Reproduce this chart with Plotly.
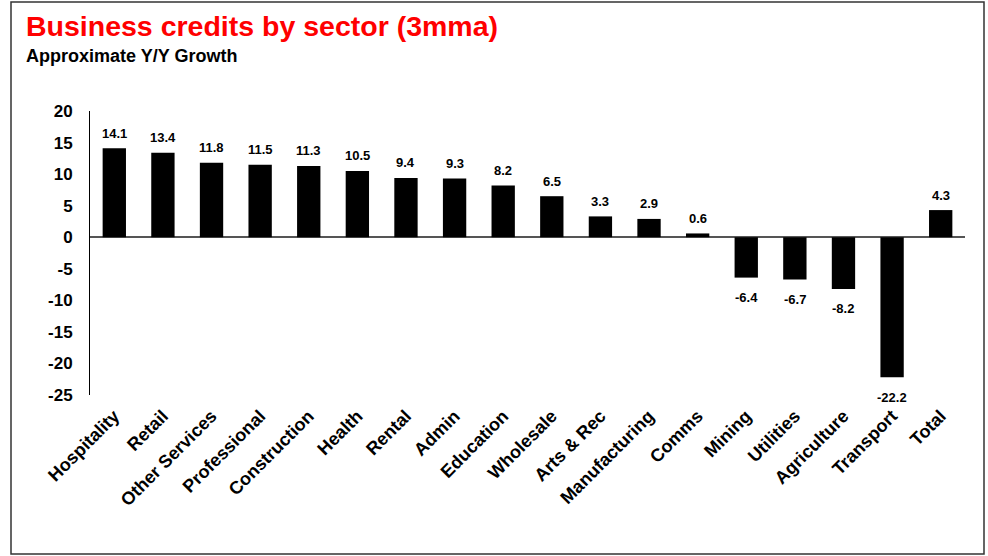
import plotly.graph_objects as go

# Approximate year-on-year growth in business credit, 3-month moving average
sectors = [
    "Hospitality", "Retail", "Other Services", "Professional", "Construction",
    "Health", "Rental", "Admin", "Education", "Wholesale", "Arts & Rec",
    "Manufacturing", "Comms", "Mining", "Utilities", "Agriculture",
    "Transport", "Total",
]
growth = [14.1, 13.4, 11.8, 11.5, 11.3, 10.5, 9.4, 9.3, 8.2, 6.5, 3.3,
          2.9, 0.6, -6.4, -6.7, -8.2, -22.2, 4.3]
y_ticks = [20, 15, 10, 5, 0, -5, -10, -15, -20, -25]

FONT = "Liberation Sans, Arial, sans-serif"

# layout geometry (pixels)
W, H = 988, 556
L, R, T, B = 90, 23, 111, 161
pw, ph = W - L - R, H - T - B


def px_x(p):
    return (p - L) / pw


def px_y(p):
    return (H - B - p) / ph


fig = go.Figure()
fig.add_trace(go.Bar(
    x=sectors, y=growth, marker=dict(color="#000000", line=dict(width=0)),
    width=0.48, hoverinfo="x+y",
))

# value labels above positive bars and below negative bars
for s, v in zip(sectors, growth):
    fig.add_annotation(
        x=s, y=v, xref="x", yref="y", text=f"{v:.1f}", showarrow=False,
        yanchor="middle", yshift=15 if v >= 0 else -20,
        font=dict(family=FONT, size=13, color="#000000", weight="bold"),
    )

# subtitle
fig.add_annotation(
    x=px_x(24), y=px_y(56), xref="paper", yref="paper",
    text="Approximate Y/Y Growth", showarrow=False,
    xanchor="left", yanchor="middle",
    font=dict(family=FONT, size=18, color="#000000", weight="bold"),
)

# outer frame
fig.add_shape(
    type="rect", xref="paper", yref="paper",
    x0=px_x(11), x1=px_x(984), y0=px_y(554), y1=px_y(2),
    line=dict(color="#333333", width=1.5), fillcolor="rgba(0,0,0,0)", layer="below",
)

fig.update_layout(
    width=W, height=H,
    margin=dict(l=L, r=R, t=T, b=B, pad=0),
    paper_bgcolor="#ffffff", plot_bgcolor="#ffffff",
    showlegend=False, bargap=0.52,
    title=dict(
        text="Business credits by sector (3mma)",
        x=26 / W, xanchor="left", xref="container",
        y=1 - 26 / H, yanchor="middle", yref="container",
        font=dict(family=FONT, size=28.5, color="#ff0000", weight="bold"),
    ),
    xaxis=dict(
        type="category", tickangle=-45, showgrid=False, showline=False,
        ticks="", ticklabelstandoff=6,
        tickfont=dict(family=FONT, size=18, color="#000000", weight="bold"),
        fixedrange=True,
    ),
    yaxis=dict(
        range=[-25, 20], tickvals=y_ticks, ticktext=[str(t) for t in y_ticks],
        showgrid=False, showline=True, linecolor="#000000", linewidth=1,
        ticks="", ticklabelstandoff=13,
        zeroline=True, zerolinecolor="#555555", zerolinewidth=1.5,
        tickfont=dict(family=FONT, size=17, color="#000000", weight="bold"),
        fixedrange=True,
    ),
)

fig.write_html("out.html")
